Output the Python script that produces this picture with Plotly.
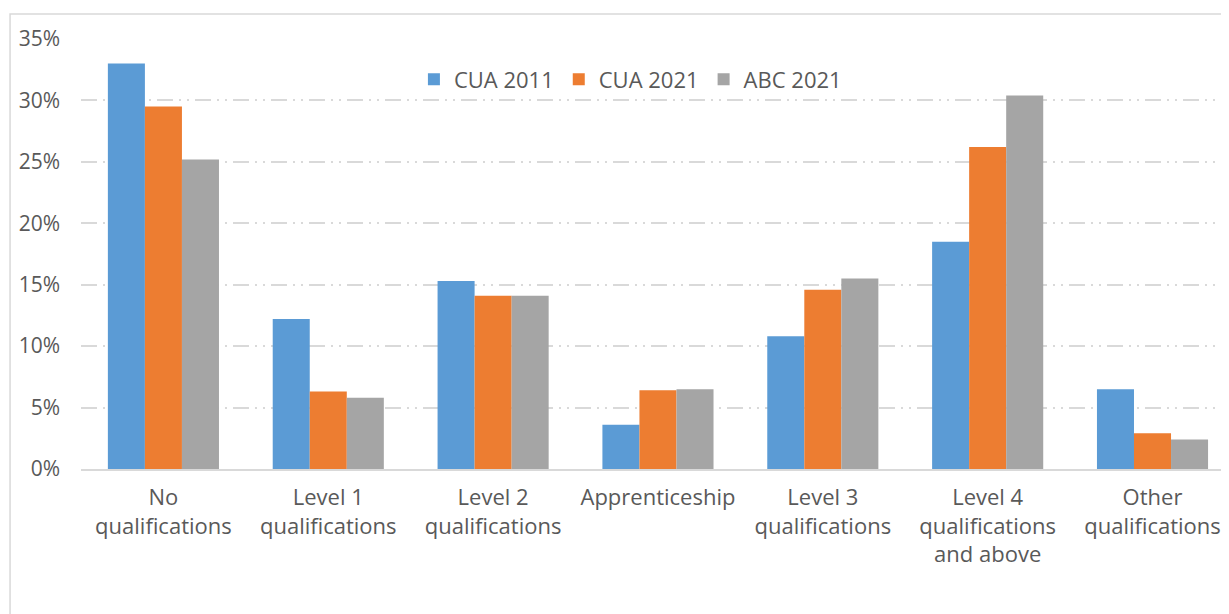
import plotly.graph_objects as go

# Share of residents by highest qualification (%)
categories = ["No<br>qualifications", "Level 1<br>qualifications", "Level 2<br>qualifications",
              "Apprenticeship", "Level 3<br>qualifications",
              "Level 4<br>qualifications<br>and above", "Other<br>qualifications"]
cua_2011 = [33.0, 12.2, 15.3, 3.6, 10.8, 18.5, 6.5]
cua_2021 = [29.5, 6.3, 14.1, 6.4, 14.6, 26.2, 2.9]
abc_2021 = [25.2, 5.8, 14.1, 6.5, 15.5, 30.4, 2.4]
series_names = ["CUA 2011", "CUA 2021", "ABC 2021"]
y_ticks = [0, 5, 10, 15, 20, 25, 30, 35]
y_labels = [f"{v}%" for v in y_ticks]

colors = ["#5B9BD5", "#ED7D31", "#A5A5A5"]
text_col = "#595959"
font = "Open Sans, Liberation Sans, Arial, sans-serif"

fig = go.Figure()
for name, vals, col in zip(series_names, [cua_2011, cua_2021, abc_2021], colors):
    fig.add_trace(go.Bar(x=list(range(len(categories))), y=vals, name=name,
                         marker=dict(color=col, line=dict(width=0))))

# page body has an 8px margin, so the figure is sized to fit inside the window
fig.update_layout(
    width=1221, height=606,
    margin=dict(l=73, r=0, t=31, b=145),
    paper_bgcolor="white", plot_bgcolor="white",
    barmode="group", bargap=0.326, bargroupgap=0,
    font=dict(family=font, size=22, color=text_col),
    showlegend=True,
    legend=dict(orientation="h", x=0.29, y=0.955, xanchor="left", yanchor="top",
                font=dict(size=22, color=text_col), itemwidth=30,
                bgcolor="rgba(0,0,0,0)", traceorder="normal"),
    xaxis=dict(tickmode="array", tickvals=list(range(len(categories))), ticktext=categories,
               range=[-0.5, 6.464], showgrid=False, zeroline=False,
               showline=True, linecolor="#d9d9d9", linewidth=1.5, ticks="",
               ticklabelstandoff=8,
               tickfont=dict(size=22, color=text_col), fixedrange=True),
    yaxis=dict(range=[0, 35], tickmode="array", tickvals=y_ticks, ticktext=y_labels,
               showgrid=True, gridcolor="#d9d9d9", gridwidth=1.5,
               griddash="16px,6px,2px,6px,2px,6px",
               zeroline=False, showline=False, ticks="", ticklabelstandoff=20,
               tickfont=dict(size=21, color=text_col)),
)

# light outer chart border (left/top edges visible)
fig.add_shape(type="rect", xref="paper", yref="paper",
              x0=-0.0618, x1=1.2, y0=-0.5, y1=1.0581,
              line=dict(color="#d9d9d9", width=1.5), fillcolor="rgba(0,0,0,0)", layer="below")

fig.write_html("out.html")
